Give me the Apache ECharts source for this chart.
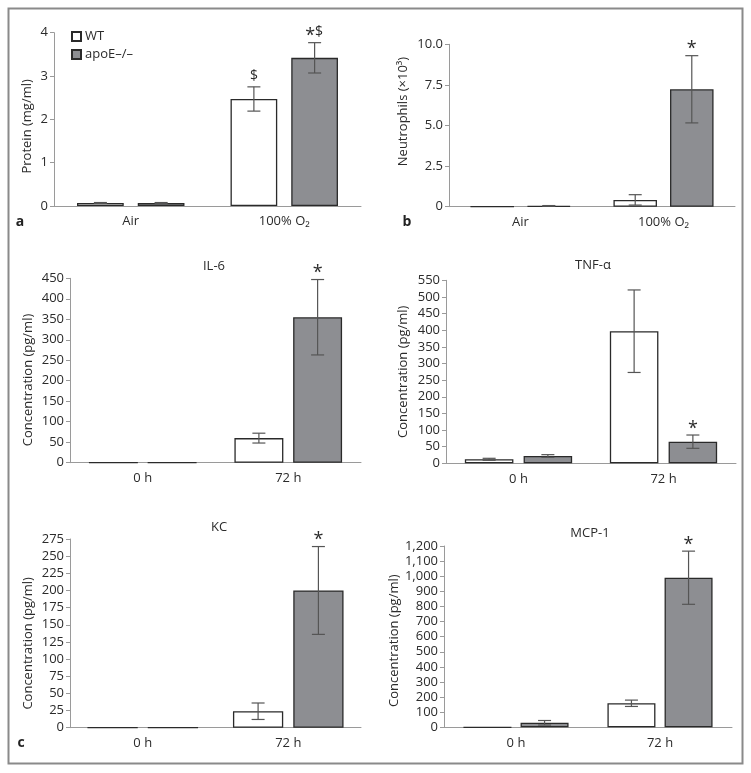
<!DOCTYPE html>
<html>
<head>
<meta charset="utf-8">
<script src="https://cdn.jsdelivr.net/npm/echarts@6/dist/echarts.min.js"></script>
<style>
html,body{margin:0;padding:0;background:#fff;}
#c{width:751px;height:773px;}
</style>
</head>
<body>
<div id="c"></div>
<script>
// ---------- DATA ----------
const seriesNames = ['WT', 'apoE–/–'];

const exposureCats = ['Air', '100% O₂'];
const timeCats = ['0 h', '72 h'];

// a: protein
const proteinWT = [0.07, 2.47];
const proteinWTErr = [0.01, 0.28];
const proteinWTMarks = ['', '$'];
const proteinKO = [0.07, 3.42];
const proteinKOErr = [0.01, 0.35];
const proteinKOMarks = ['', '*$'];
const proteinTicks = [0, 1, 2, 3, 4];

// b: neutrophils
const neutWT = [0.0, 0.42];
const neutWTErr = [0, 0.32];
const neutWTMarks = ['', ''];
const neutKO = [0.05, 7.23];
const neutKOErr = [0.02, 2.07];
const neutKOMarks = ['', '*'];
const neutTicks = [0, 2.5, 5.0, 7.5, 10.0];

// IL-6
const il6WT = [0, 60];
const il6WTErr = [0, 12];
const il6WTMarks = ['', ''];
const il6KO = [0, 355];
const il6KOErr = [0, 92];
const il6KOMarks = ['', '*'];
const il6Ticks = [0, 50, 100, 150, 200, 250, 300, 350, 400, 450];

// TNF-α
const tnfWT = [12, 397];
const tnfWTErr = [3, 124];
const tnfWTMarks = ['', ''];
const tnfKO = [22, 65];
const tnfKOErr = [4, 20];
const tnfKOMarks = ['', '*'];
const tnfTicks = [0, 50, 100, 150, 200, 250, 300, 350, 400, 450, 500, 550];

// KC
const kcWT = [0, 24];
const kcWTErr = [0, 12];
const kcWTMarks = ['', ''];
const kcKO = [0, 200];
const kcKOErr = [0, 64];
const kcKOMarks = ['', '*'];
const kcTicks = [0, 25, 50, 75, 100, 125, 150, 175, 200, 225, 250, 275];

// MCP-1
const mcpWT = [0, 159];
const mcpWTErr = [0, 21];
const mcpWTMarks = ['', ''];
const mcpKO = [30, 990];
const mcpKOErr = [15, 176];
const mcpKOMarks = ['', '*'];
const mcpTicks = [0, 100, 200, 300, 400, 500, 600, 700, 800, 900, 1000, 1100, 1200];

// ---------- PANELS (data refs) ----------
const panels = [
  {cats: exposureCats, wt: proteinWT, wtErr: proteinWTErr, wtMarks: proteinWTMarks, ko: proteinKO, koErr: proteinKOErr, koMarks: proteinKOMarks, ticks: proteinTicks, yName: 'Protein (mg/ml)', title: '', fmt: v => String(v)},
  {cats: exposureCats, wt: neutWT, wtErr: neutWTErr, wtMarks: neutWTMarks, ko: neutKO, koErr: neutKOErr, koMarks: neutKOMarks, ticks: neutTicks, yName: 'Neutrophils (×10³)', title: '', fmt: v => v === 0 ? '0' : v.toFixed(1)},
  {cats: timeCats, wt: il6WT, wtErr: il6WTErr, wtMarks: il6WTMarks, ko: il6KO, koErr: il6KOErr, koMarks: il6KOMarks, ticks: il6Ticks, yName: 'Concentration (pg/ml)', title: 'IL-6', fmt: v => String(v)},
  {cats: timeCats, wt: tnfWT, wtErr: tnfWTErr, wtMarks: tnfWTMarks, ko: tnfKO, koErr: tnfKOErr, koMarks: tnfKOMarks, ticks: tnfTicks, yName: 'Concentration (pg/ml)', title: 'TNF-α', fmt: v => String(v)},
  {cats: timeCats, wt: kcWT, wtErr: kcWTErr, wtMarks: kcWTMarks, ko: kcKO, koErr: kcKOErr, koMarks: kcKOMarks, ticks: kcTicks, yName: 'Concentration (pg/ml)', title: 'KC', fmt: v => String(v)},
  {cats: timeCats, wt: mcpWT, wtErr: mcpWTErr, wtMarks: mcpWTMarks, ko: mcpKO, koErr: mcpKOErr, koMarks: mcpKOMarks, ticks: mcpTicks, yName: 'Concentration (pg/ml)', title: 'MCP-1', fmt: v => v.toLocaleString('en-US')}
];

// ---------- LAYOUT / STYLE ----------
const layout = [
  {left: 54,  top: 32.7,  width: 307, height: 173.3, catGap: 0.30, barGap: 0.30, nameGap: 20,   nameShift: 7,   titleX: 0,   titleY: 0},
  {left: 449, top: 44.3,  width: 286, height: 162.4, catGap: 0.30, barGap: 0.30, nameGap: 39.5, nameShift: -14, titleX: 0,   titleY: 0},
  {left: 70,  top: 278.3, width: 291, height: 184.4, catGap: 0.26, barGap: 0.20, nameGap: 35.5, nameShift: 9.5, titleX: 214, titleY: 266},
  {left: 446, top: 280.3, width: 290, height: 183,   catGap: 0.26, barGap: 0.21, nameGap: 36.5, nameShift: 0,   titleX: 593, titleY: 265},
  {left: 70,  top: 539,   width: 291, height: 188.7, catGap: 0.24, barGap: 0.20, nameGap: 35.5, nameShift: 10,  titleX: 219, titleY: 527},
  {left: 444, top: 546,   width: 288, height: 181.3, catGap: 0.27, barGap: 0.19, nameGap: 41,   nameShift: 4,   titleX: 590, titleY: 533}
];

const FONT = '"Open Sans", "DejaVu Sans", sans-serif';
const TXT = '#2b2b2b';
const AXIS = '#9a9a9a';
const KO_FILL = '#8d8e92';
const EDGE = '#2a2a2a';
const ERR = '#555555';

function errRenderer(side, catGap, barGap, marks) {
  return function (params, api) {
    const i = params.dataIndex;
    const cat = api.value(0), v = api.value(1), e = api.value(2);
    const band = api.size([1, 0])[0];
    const bw = band * (1 - catGap) / (2 + barGap);
    const dx = side * bw * (1 + barGap) / 2;
    const pTop = api.coord([cat, v + e]);
    const pBot = api.coord([cat, Math.max(0, v - e)]);
    const x = pTop[0] + dx;
    const children = [];
    const ls = {stroke: ERR, lineWidth: 1.2};
    if (e > 0) {
      children.push({type: 'line', shape: {x1: x, y1: pTop[1], x2: x, y2: pBot[1]}, style: ls});
      children.push({type: 'line', shape: {x1: x - 6.5, y1: pTop[1], x2: x + 6.5, y2: pTop[1]}, style: ls});
      children.push({type: 'line', shape: {x1: x - 6.5, y1: pBot[1], x2: x + 6.5, y2: pBot[1]}, style: ls});
    }
    const m = marks[i] || '';
    const chars = m.split('');
    chars.forEach((ch, k) => {
      const ox = (k - (chars.length - 1) / 2) * 9;
      const isStar = ch === '*';
      children.push({
        type: 'text',
        style: {
          text: ch, x: x + ox, y: pTop[1] - (isStar ? 6.5 : 10.5),
          align: 'center', verticalAlign: 'middle',
          fontSize: isStar ? 18 : 14, fontFamily: FONT, fill: TXT
        }
      });
    });
    return {type: 'group', children};
  };
}

const grid = [], xAxis = [], yAxis = [], series = [], graphic = [];

panels.forEach((p, gi) => {
  const L = layout[gi];
  grid.push({left: L.left, top: L.top, width: L.width, height: L.height});
  xAxis.push({
    type: 'category', gridIndex: gi, data: p.cats,
    axisLine: {lineStyle: {color: AXIS, width: 1}},
    axisTick: {alignWithLabel: true, length: 4, lineStyle: {color: AXIS}},
    axisLabel: {color: TXT, fontSize: 13, fontFamily: FONT, margin: 9}
  });
  const tmax = p.ticks[p.ticks.length - 1];
  const tint = p.ticks[1] - p.ticks[0];
  const pad = L.nameShift >= 0 ? [0, 2 * L.nameShift, 0, 0] : [0, 0, 0, -2 * L.nameShift];
  yAxis.push({
    type: 'value', gridIndex: gi, min: p.ticks[0], max: tmax, interval: tint,
    name: p.yName, nameLocation: 'middle', nameGap: L.nameGap,
    nameTextStyle: {color: TXT, fontSize: 13, fontFamily: FONT, padding: pad},
    axisLine: {show: true, lineStyle: {color: AXIS, width: 1}},
    axisTick: {show: true, length: 4, lineStyle: {color: AXIS}},
    splitLine: {show: false},
    axisLabel: {color: TXT, fontSize: 13, fontFamily: FONT, margin: 6, formatter: p.fmt}
  });
  series.push({
    type: 'bar', name: seriesNames[0], xAxisIndex: gi, yAxisIndex: gi, data: p.wt,
    barCategoryGap: (L.catGap * 100) + '%', barGap: (L.barGap * 100) + '%',
    itemStyle: {color: '#ffffff', borderColor: EDGE, borderWidth: 1.3},
    emphasis: {disabled: true}, animation: false
  });
  series.push({
    type: 'bar', name: seriesNames[1], xAxisIndex: gi, yAxisIndex: gi, data: p.ko,
    barCategoryGap: (L.catGap * 100) + '%', barGap: (L.barGap * 100) + '%',
    itemStyle: {color: KO_FILL, borderColor: EDGE, borderWidth: 1.3},
    emphasis: {disabled: true}, animation: false
  });
  series.push({
    type: 'custom', name: 'err-wt-' + gi, xAxisIndex: gi, yAxisIndex: gi,
    data: p.wt.map((v, i) => [i, v, p.wtErr[i]]),
    renderItem: errRenderer(-1, L.catGap, L.barGap, p.wtMarks), z: 5, animation: false, silent: true
  });
  series.push({
    type: 'custom', name: 'err-ko-' + gi, xAxisIndex: gi, yAxisIndex: gi,
    data: p.ko.map((v, i) => [i, v, p.koErr[i]]),
    renderItem: errRenderer(1, L.catGap, L.barGap, p.koMarks), z: 5, animation: false, silent: true
  });
  if (p.title) {
    graphic.push({type: 'text', x: L.titleX, y: L.titleY,
      style: {text: p.title, align: 'center', verticalAlign: 'middle', fontSize: 13, fontFamily: FONT, fill: TXT}});
  }
});

// frame & panel letters
graphic.push({type: 'rect', shape: {x: 8.5, y: 8.5, width: 734, height: 755}, style: {fill: 'none', stroke: '#8a8a8a', lineWidth: 2}, z: -1});
[['a', 20, 222], ['b', 407, 222], ['c', 21, 743]].forEach(t => {
  graphic.push({type: 'text', x: t[1], y: t[2],
    style: {text: t[0], align: 'center', verticalAlign: 'middle', fontSize: 14, fontWeight: 'bold', fontFamily: FONT, fill: '#222'}});
});

const chart = echarts.init(document.getElementById('c'), null, {renderer: 'canvas'});
chart.setOption({
  animation: false,
  backgroundColor: '#ffffff',
  grid, xAxis, yAxis, series, graphic,
  legend: {
    data: seriesNames, orient: 'vertical', left: 66, top: 25, itemGap: 5,
    itemWidth: 9, itemHeight: 9, icon: 'rect', selectedMode: false,
    textStyle: {color: TXT, fontSize: 13, fontFamily: FONT, padding: [0, 0, 0, -1]}
  }
});
</script>
</body>
</html>
